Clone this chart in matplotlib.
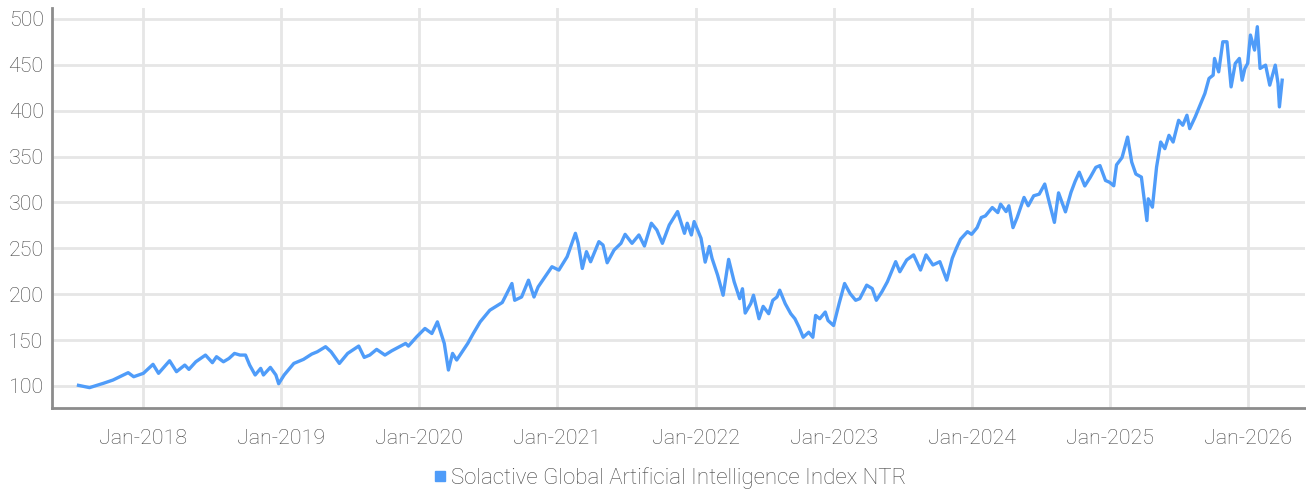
import matplotlib
matplotlib.use('Agg')
import matplotlib.pyplot as plt
from matplotlib.lines import Line2D

plt.rcParams['font.family'] = ['Roboto', 'DejaVu Sans']
plt.rcParams['font.weight'] = 'light'

# decimal years
years = [
    2017.53, 2017.61, 2017.71, 2017.78, 2017.89, 2017.93, 2018.00, 2018.07, 2018.11, 2018.19,
    2018.24, 2018.30, 2018.33, 2018.38, 2018.45, 2018.50, 2018.53, 2018.58, 2018.62, 2018.66,
    2018.70, 2018.74, 2018.77, 2018.81, 2018.85, 2018.87, 2018.92, 2018.96, 2018.98, 2019.02,
    2019.06, 2019.09, 2019.16, 2019.22, 2019.26, 2019.32, 2019.36, 2019.42, 2019.48, 2019.56,
    2019.60, 2019.64, 2019.69, 2019.75, 2019.80, 2019.90, 2019.92, 2019.98, 2020.04, 2020.09,
    2020.13, 2020.18, 2020.21, 2020.24, 2020.27, 2020.35, 2020.39, 2020.44, 2020.51, 2020.60,
    2020.67, 2020.69, 2020.74, 2020.79, 2020.83, 2020.86, 2020.96, 2021.01, 2021.07, 2021.13,
    2021.15, 2021.18, 2021.21, 2021.24, 2021.30, 2021.33, 2021.36, 2021.41, 2021.46, 2021.49,
    2021.54, 2021.59, 2021.63, 2021.68, 2021.72, 2021.76, 2021.81, 2021.87, 2021.92, 2021.94,
    2021.97, 2021.99, 2022.04, 2022.07, 2022.10, 2022.12, 2022.16, 2022.20, 2022.24, 2022.28,
    2022.32, 2022.34, 2022.36, 2022.40, 2022.42, 2022.46, 2022.49, 2022.53, 2022.56, 2022.59,
    2022.61, 2022.65, 2022.69, 2022.72, 2022.75, 2022.78, 2022.82, 2022.85, 2022.87, 2022.90,
    2022.94, 2022.96, 2023.00, 2023.04, 2023.08, 2023.12, 2023.16, 2023.19, 2023.24, 2023.28,
    2023.31, 2023.35, 2023.39, 2023.42, 2023.45, 2023.48, 2023.53, 2023.58, 2023.63, 2023.67,
    2023.72, 2023.77, 2023.82, 2023.86, 2023.89, 2023.92, 2023.97, 2024.00, 2024.04, 2024.07,
    2024.10, 2024.15, 2024.19, 2024.21, 2024.25, 2024.27, 2024.30, 2024.33, 2024.38, 2024.41,
    2024.45, 2024.49, 2024.53, 2024.56, 2024.60, 2024.63, 2024.68, 2024.72, 2024.75, 2024.78,
    2024.82, 2024.86, 2024.90, 2024.93, 2024.97, 2025.00, 2025.03, 2025.05, 2025.09, 2025.13,
    2025.16, 2025.19, 2025.23, 2025.27, 2025.28, 2025.31, 2025.34, 2025.37, 2025.40, 2025.43,
    2025.46, 2025.50, 2025.53, 2025.56, 2025.58, 2025.62, 2025.66, 2025.69, 2025.72, 2025.75,
    2025.76, 2025.79, 2025.82, 2025.85, 2025.88, 2025.91, 2025.94, 2025.96, 2025.98, 2026.00,
    2026.02, 2026.05, 2026.07, 2026.09, 2026.13, 2026.16, 2026.20, 2026.22, 2026.23, 2026.25,
]

index_ntr = [
    100.7, 98.2, 102.9, 106.5, 114.5, 110.1, 113.8, 123.6, 113.8, 127.5,
    115.6, 122.8, 118.1, 126.4, 133.7, 125.4, 131.9, 126.4, 130.0, 135.5,
    133.7, 133.7, 122.8, 112.0, 119.2, 112.0, 120.3, 112.0, 102.5, 112.0,
    119.2, 124.6, 129.0, 134.8, 137.3, 142.8, 137.3, 124.6, 135.5, 143.5,
    131.2, 133.7, 139.9, 133.7, 138.4, 146.4, 143.5, 153.6, 162.7, 157.2,
    169.9, 146.4, 117.4, 135.5, 128.3, 146.4, 157.2, 169.9, 182.6, 191.0,
    211.7, 193.4, 197.0, 215.3, 197.0, 208.0, 230.0, 226.3, 240.9, 266.4,
    255.5, 228.1, 246.4, 235.4, 257.3, 253.6, 234.3, 248.2, 255.5, 265.3,
    255.5, 264.6, 252.6, 277.4, 270.0, 255.5, 275.5, 290.1, 266.4, 277.4,
    264.6, 279.2, 261.0, 235.0, 252.0, 239.0, 220.9, 198.9, 238.0, 213.6,
    195.2, 206.0, 179.5, 189.7, 198.9, 173.3, 186.8, 178.8, 193.4, 197.0,
    204.4, 189.7, 178.8, 173.3, 164.1, 153.1, 158.6, 153.1, 176.9, 173.3,
    180.6, 171.4, 165.9, 189.7, 211.7, 200.7, 193.4, 195.2, 209.9, 206.2,
    193.4, 202.6, 213.6, 224.5, 235.5, 224.5, 237.4, 242.9, 226.4, 242.9,
    231.9, 235.5, 215.4, 239.2, 250.2, 260.0, 268.2, 265.3, 272.6, 283.6,
    285.4, 294.5, 289.0, 298.2, 290.1, 296.4, 272.6, 283.6, 305.5, 296.4,
    307.3, 309.1, 320.1, 301.8, 278.3, 310.5, 289.8, 311.0, 323.0, 333.0,
    318.0, 327.5, 338.3, 340.2, 324.0, 322.0, 318.2, 341.0, 349.0, 371.3,
    344.0, 331.0, 327.7, 280.3, 304.0, 294.9, 338.6, 365.9, 358.7, 373.2,
    365.9, 389.6, 384.2, 395.1, 380.5, 393.3, 407.8, 418.8, 435.2, 438.8,
    457.0, 442.4, 475.2, 475.2, 426.0, 451.5, 457.0, 433.3, 446.1, 451.5,
    482.5, 466.1, 491.6, 446.1, 449.7, 427.9, 449.7, 429.7, 404.2, 433.3,
]

tick_years = list(range(2018, 2027))
tick_labels = ['Jan-%d' % y for y in tick_years]
y_ticks = [100, 150, 200, 250, 300, 350, 400, 450, 500]

line_color = '#4f9cf9'
text_color = '#444444'

fig = plt.figure(figsize=(13.06, 4.93), dpi=100)
ax = fig.add_axes([0.0398, 0.1724, 0.9595, 0.8114])

ax.plot(years, index_ntr, color=line_color, linewidth=2.4, solid_joinstyle='round')

ax.set_xlim(2017.338, 2026.416)
ax.set_ylim(76, 512)
ax.set_xticks(tick_years)
ax.set_xticklabels(tick_labels)
ax.set_yticks(y_ticks)

ax.grid(True, color='#e6e6e6', linewidth=2.0)
ax.set_axisbelow(True)
for side in ['top', 'right']:
    ax.spines[side].set_visible(False)
for side in ['left', 'bottom']:
    ax.spines[side].set_color('#8c8c8c')
    ax.spines[side].set_linewidth(2.0)

ax.tick_params(axis='both', length=0, labelsize=15.4, labelcolor=text_color)
ax.tick_params(axis='x', pad=15)
ax.tick_params(axis='y', pad=6)

handle = Line2D([], [], color=line_color, marker='s', linestyle='none', markersize=7.5)
fig.legend([handle], ['Solactive Global Artificial Intelligence Index NTR'],
           loc='center', bbox_to_anchor=(669 / 1306, 1 - 478 / 493),
           frameon=False, fontsize=16, handletextpad=0.1, handlelength=0.8,
           labelcolor=text_color)

fig.savefig('out.png', dpi=100)
